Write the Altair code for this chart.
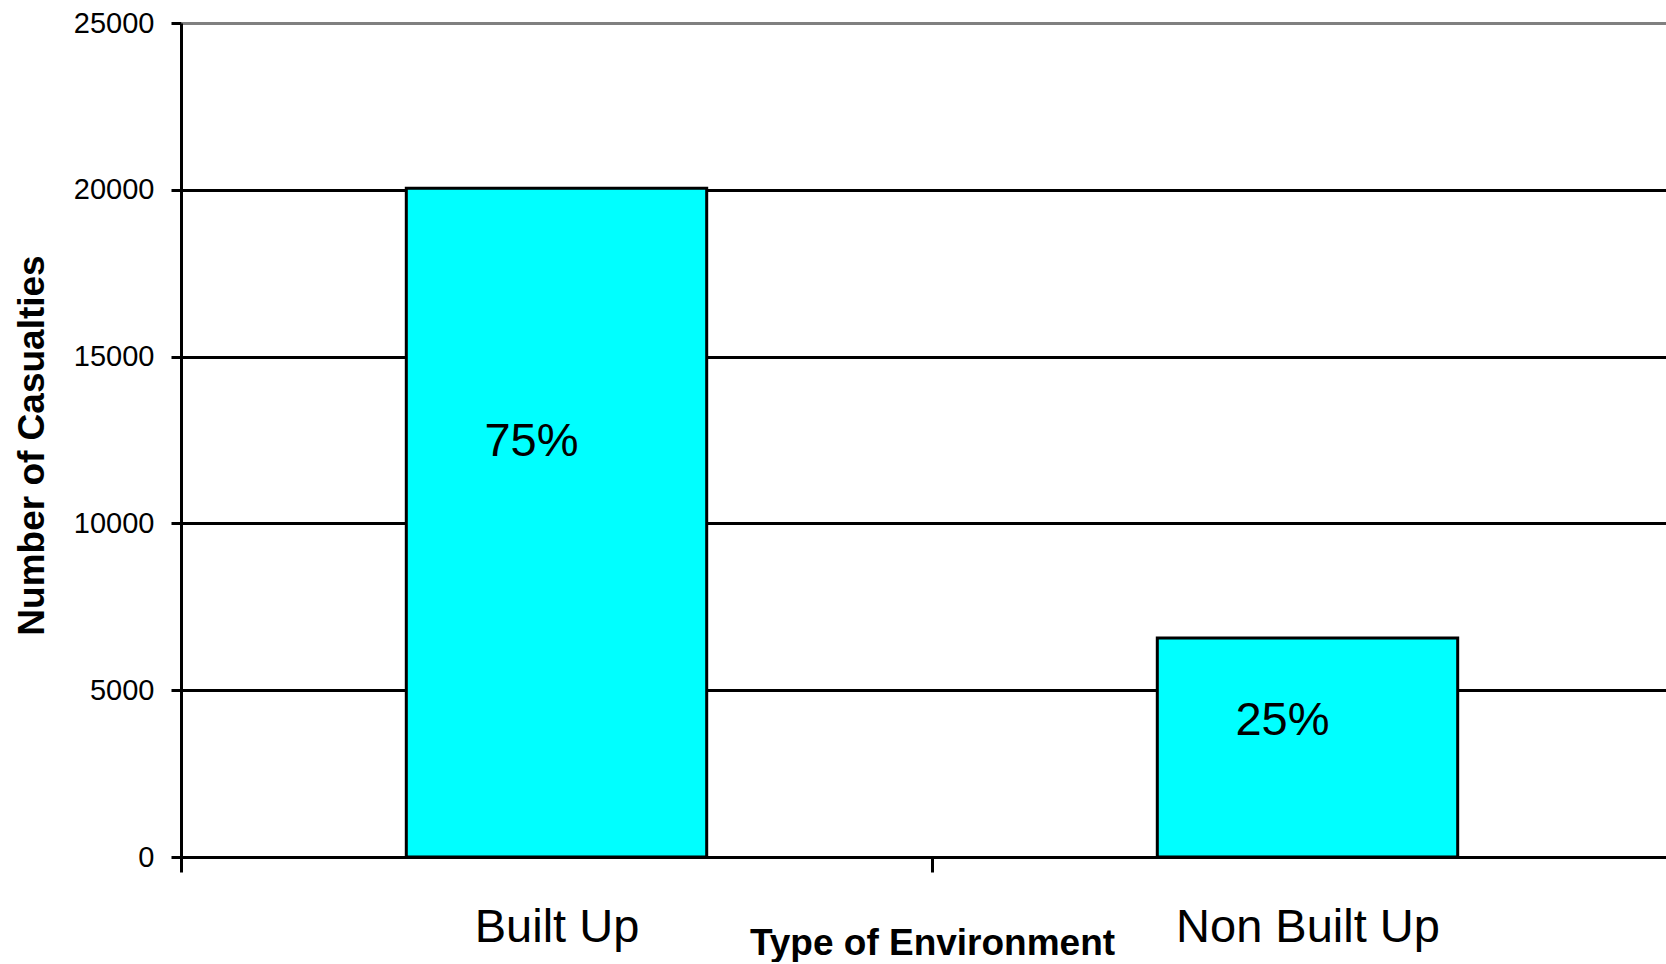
import altair as alt
import pandas as pd

# Casualties by type of environment
environments = ["Built Up", "Non Built Up"]
casualties = [20050, 6565]
y_ticks = [0, 5000, 10000, 15000, 20000, 25000]

df = pd.DataFrame({"Environment": environments, "Casualties": casualties})

FONT = "Liberation Sans"

x_enc = alt.X(
    "Environment:N",
    sort=environments,
    scale=alt.Scale(range=[0, 1502], paddingInner=0, paddingOuter=0),
    axis=alt.Axis(
        title="Type of Environment",
        titleFont=FONT,
        titleFontSize=37,
        titleFontWeight="bold",
        titleColor="black",
        titleBaseline="alphabetic",
        titleX=751,
        titleY=97,
        titleAnchor="middle",
        labelFont=FONT,
        labelFontSize=47,
        labelColor="black",
        labelBaseline="alphabetic",
        labelPadding=69,
        labelAngle=0,
        labelLimit=0,
        tickBand="extent",
        tickSize=15,
        tickWidth=3,
        tickColor="black",
        domainColor="black",
        domainWidth=3,
        grid=False,
    ),
)

y_enc = alt.Y(
    "Casualties:Q",
    scale=alt.Scale(domain=[0, 25000], nice=False),
    axis=alt.Axis(
        values=y_ticks,
        format="d",
        title="Number of Casualties",
        titleFont=FONT,
        titleFontSize=37,
        titleFontWeight="bold",
        titleColor="black",
        titleAngle=270,
        titleAlign="center",
        titleBaseline="alphabetic",
        titleX=-138,
        titleY=422,
        labelFont=FONT,
        labelFontSize=29,
        labelColor="black",
        labelPadding=17,
        tickSize=10,
        tickWidth=3,
        tickColor="black",
        domainColor="black",
        domainWidth=3,
        grid=True,
        gridWidth=3,
        gridColor={"condition": {"test": "datum.value === 25000", "value": "#808080"}, "value": "black"},
    ),
)

bars = alt.Chart(df).mark_bar(
    width=alt.RelativeBandSize(0.4),
    color="#00FFFF",
    stroke="black",
    strokeWidth=3,
).encode(x=x_enc, y=y_enc)

labels = alt.Chart(df).transform_joinaggregate(
    total="sum(Casualties)"
).transform_calculate(
    share="datum.Casualties / datum.total",
    label_y="datum.Casualties * 0.62",
).mark_text(
    font=FONT,
    fontSize=47,
    color="black",
    baseline="middle",
    align="center",
    dx=-25,
).encode(
    x=alt.X("Environment:N", sort=environments),
    y=alt.Y("label_y:Q"),
    text=alt.Text("share:Q", format=".0%"),
)

chart = alt.layer(bars, labels).properties(
    width=1485,
    height=834,
    autosize=alt.AutoSizeParams(type="none"),
    padding={"left": 181, "top": 23, "right": 0, "bottom": 105},
    background="white",
).configure_view(stroke=None)

chart.save("out.html", embed_options={"renderer": "svg", "actions": False})
